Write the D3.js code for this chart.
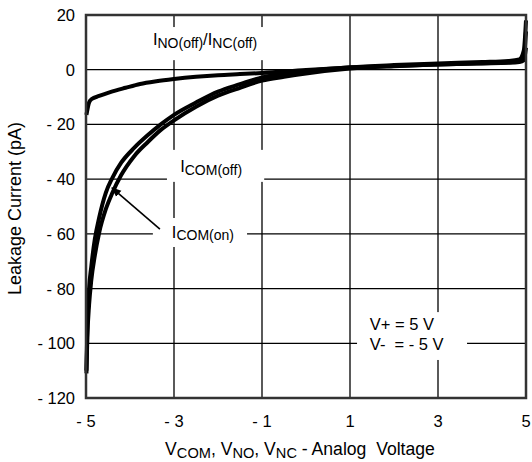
<!DOCTYPE html>
<html>
<head>
<meta charset="utf-8">
<script src="https://cdn.jsdelivr.net/npm/d3@7"></script>
<style>
  html, body { margin: 0; padding: 0; background: #fff; }
  text { font-family: "Liberation Sans", Arial, Helvetica, sans-serif; fill: #000; }
</style>
</head>
<body>
<div id="chart"></div>
<script>
// analog voltage (V) vs leakage current (pA)
const comX = [-4.99, -4.97, -4.93, -4.88, -4.8, -4.7, -4.55, -4.4, -4.2, -3.9, -3.6, -3.3, -3, -2.5, -2, -1.5, -1, -0.5, 0, 1, 2, 3, 4, 4.6, 4.85, 4.95, 5];
const comOn = [-110, -95, -80, -72, -62, -54, -45, -39.5, -34, -28.5, -24, -20, -16.5, -12, -8, -5.3, -2.8, -1.5, -0.5, 0.9, 1.7, 2.3, 2.8, 3.2, 3.8, 7, 18];
const comOff = [-111, -98, -86, -77, -68, -59.5, -51, -45, -38.5, -31.5, -26.5, -22, -18.5, -13.5, -9.5, -6.6, -4.0, -2.6, -1.4, 0.4, 1.3, 1.9, 2.4, 2.7, 3.1, 4.5, 14];

const noX = [-4.99, -4.93, -4.87, -4.7, -4.45, -4.1, -3.77, -3.4, -3, -2.5, -2, -1.5, -1, 0, 1, 2, 3, 4, 4.6, 4.85, 4.95, 5];
const noOff = [-16.5, -12, -10.7, -9.6, -8.2, -6.6, -5.2, -4.2, -3.4, -2.6, -2, -1.6, -1.2, -0.1, 0.8, 1.4, 1.9, 2.3, 2.5, 2.8, 3.5, 8];

const xTicks = [-5, -3, -1, 1, 3, 5];
const yTicks = [20, 0, -20, -40, -60, -80, -100, -120];

const W = 532, H = 462;
const margin = { left: 86, right: 6, top: 15, bottom: 64 };

const svg = d3.select("#chart").append("svg")
    .attr("width", W)
    .attr("height", H);

const x = d3.scaleLinear().domain([-5, 5]).range([margin.left, W - margin.right]);
const y = d3.scaleLinear().domain([-120, 20]).range([H - margin.bottom, margin.top]);

const fmt = d => d < 0 ? "- " + Math.abs(d) : String(d);

// grid
const grid = svg.append("g").attr("stroke", "#000").attr("stroke-width", 1.3);
grid.selectAll("line.v")
    .data(xTicks.slice(1, -1))
    .enter().append("line")
    .attr("x1", d => x(d)).attr("x2", d => x(d))
    .attr("y1", y(20)).attr("y2", y(-120));
grid.selectAll("line.h")
    .data(yTicks.slice(1, -1))
    .enter().append("line")
    .attr("x1", x(-5)).attr("x2", x(5))
    .attr("y1", d => y(d)).attr("y2", d => y(d));

// tick labels
svg.append("g").selectAll("text")
    .data(yTicks)
    .enter().append("text")
    .attr("x", margin.left - 11)
    .attr("y", d => y(d))
    .attr("dy", "0.36em")
    .attr("text-anchor", "end")
    .style("font-size", "16.5px")
    .text(fmt);

svg.append("g").selectAll("text")
    .data(xTicks)
    .enter().append("text")
    .attr("x", d => x(d))
    .attr("y", y(-120) + 29)
    .attr("text-anchor", "middle")
    .style("font-size", "16.5px")
    .text(fmt);

// axis titles
svg.append("text")
    .attr("transform", `translate(21,${(y(20) + y(-120)) / 2 + 2}) rotate(-90)`)
    .attr("text-anchor", "middle")
    .style("font-size", "18px")
    .text("Leakage Current (pA)");

function subText(sel, parts, big = 16.5, small = 14) {
    // parts: [text, isSub]
    parts.forEach(([t, sub]) => {
        sel.append("tspan")
            .attr("dy", sub ? 2.5 : -2.5)
            .style("font-size", (sub ? small : big) + "px")
            .text(t);
    });
    return sel;
}

const xTitle = svg.append("text")
    .attr("x", (x(-5) + x(5)) / 2 - 6)
    .attr("y", y(-120) + 57 + 2.5)
    .attr("text-anchor", "middle")
    .style("white-space", "pre");
subText(xTitle, [["V", 0], ["COM", 1], [", V", 0], ["NO", 1], [", V", 0], ["NC", 1], [" - Analog  Voltage", 0]], 17.6, 14.6);

// label boxes (mask the grid behind the annotations)
const boxes = [
    [-3.59, -0.91, 15.6, 3.5],
    [-3.16, -0.95, -29.3, -41.0],
    [-3.48, -1.34, -54.2, -64.8],
    [1.16, 3.66, -88.6, -106.1]
];
svg.append("g").selectAll("rect")
    .data(boxes)
    .enter().append("rect")
    .attr("x", d => x(d[0]))
    .attr("width", d => x(d[1]) - x(d[0]))
    .attr("y", d => y(d[2]))
    .attr("height", d => y(d[3]) - y(d[2]))
    .attr("fill", "#fff");

const lblNo = svg.append("text").attr("x", x(-3.48)).attr("y", y(9.0) + 2.5);
subText(lblNo, [["I", 0], ["NO(off)", 1], ["/I", 0], ["NC(off)", 1]]);

const lblOff = svg.append("text").attr("x", x(-2.86)).attr("y", y(-37.4) + 2.5);
subText(lblOff, [["I", 0], ["COM(off)", 1]]);

const lblOn = svg.append("text").attr("x", x(-3.05)).attr("y", y(-61.5) + 2.5);
subText(lblOn, [["I", 0], ["COM(on)", 1]]);

svg.append("text").attr("x", x(1.45)).attr("y", y(-95.1))
    .style("font-size", "16.5px").text("V+ = 5 V");
svg.append("text").attr("x", x(1.45)).attr("y", y(-102.4))
    .style("font-size", "16.5px").style("white-space", "pre").text("V-  = - 5 V");

// curves
const line = d3.line().x(d => x(d[0])).y(d => y(d[1])).curve(d3.curveMonotoneX);
const series = [
    d3.zip(noX, noOff),
    d3.zip(comX, comOn),
    d3.zip(comX, comOff)
];
svg.append("g").selectAll("path")
    .data(series)
    .enter().append("path")
    .attr("d", line)
    .attr("fill", "none")
    .attr("stroke", "#000")
    .attr("stroke-width", 4)
    .attr("stroke-linejoin", "round");

// arrow to ICOM(on)
svg.append("defs").append("marker")
    .attr("id", "head")
    .attr("viewBox", "0 0 10 10")
    .attr("refX", 9).attr("refY", 5)
    .attr("markerWidth", 10).attr("markerHeight", 10)
    .attr("markerUnits", "userSpaceOnUse")
    .attr("orient", "auto")
    .append("path").attr("d", "M0,1 L10,5 L0,9 Z").attr("fill", "#000");
svg.append("line")
    .attr("x1", x(-3.32)).attr("y1", y(-58.3))
    .attr("x2", x(-4.41)).attr("y2", y(-43.2))
    .attr("stroke", "#000").attr("stroke-width", 1.6)
    .attr("marker-end", "url(#head)");

// frame
svg.append("rect")
    .attr("x", x(-5)).attr("y", y(20))
    .attr("width", x(5) - x(-5)).attr("height", y(-120) - y(20))
    .attr("fill", "none")
    .attr("stroke", "#333")
    .attr("stroke-width", 2.5);
</script>
</body>
</html>
